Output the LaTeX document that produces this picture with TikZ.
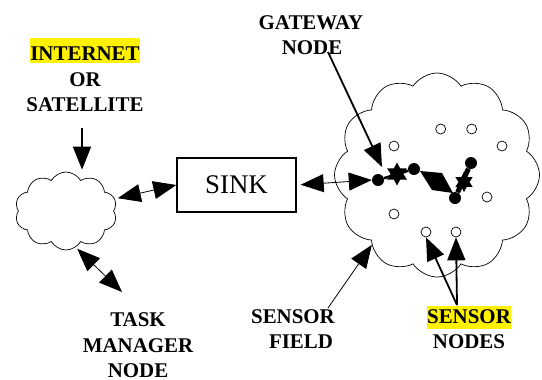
\documentclass[tikz,border=0pt]{standalone}
\usepackage{fontspec}
\setmainfont{Liberation Serif}
\usetikzlibrary{shapes.symbols,shapes.geometric,arrows.meta}
\newcommand\hlbox[3]{{\setlength\fboxsep{0pt}\colorbox{yellow}{\rule[-#2]{0pt}{#1}#3}}}
\begin{document}
\begin{tikzpicture}[x=1bp,y=-1bp,
  >={Triangle[length=23bp,width=18bp]},
  lbl/.style={font=\fontsize{21}{25}\selectfont\bfseries, inner sep=0pt, anchor=base},
  cloudsmall/.style={cloud, draw, cloud puffs=10, cloud puff arc=120, aspect=1.3, minimum width=102bp, minimum height=78bp, inner sep=0pt, line width=0.7bp},
  cloudbig/.style={cloud, draw, cloud puffs=12, cloud puff arc=115, aspect=1, minimum width=205bp, minimum height=204bp, inner sep=0pt, line width=0.7bp},
  sinkbox/.style={draw, line width=1.4bp, minimum width=119bp, minimum height=54bp, inner sep=0pt, font=\fontsize{27}{30}\selectfont},
  ocirc/.style={circle, draw, minimum size=10bp, inner sep=0pt, line width=0.7bp, fill=white},
  dot/.style={circle, fill, minimum size=12bp, inner sep=0pt},
  bstar/.style={star, star points=6, star point ratio=1.8, fill, inner sep=0pt},
  thinline/.style={line width=0.8bp},
  thickline/.style={line width=1.8bp}]
\useasboundingbox (0,0) rectangle (542,379);

% clouds and sink
\node[cloudsmall] (small) at (66,211) {};
\node[cloudbig] (big) at (437,175) {};
\node[sinkbox] (sink) at (236.5,185) {SINK\hspace{10bp}};

% sensor nodes (open circles)
\foreach \n/\x/\y in {c1/440.7/129, c2/471.7/129, c3/502/146, c4/394/146,
                      c5/487/197, c6/394/214, c7/426/232, c8/456/232}
  \node[ocirc] (\n) at (\x,\y) {};

% gateway chain
\node[dot] (d1) at (378,180) {};
\node[dot] (d2) at (414,169) {};
\node[dot] (d3) at (455,198) {};
\node[dot] (d4) at (471,163) {};
\draw[line width=2.5bp] (d1) -- (d2);
\draw[line width=5bp] (d3) -- (d4);
\node[bstar, minimum size=23bp] (s1) at (397,174) {};
\node[bstar, minimum size=20bp] (s2) at (464,182) {};
\fill (420,171) -- (442,173) -- (453,193) -- (432,190) -- cycle;

% labels
\node[lbl] (inet1) at (85,60) {\hlbox{25bp}{3bp}{INTERNET}};
\node[lbl] (inet2) at (85,86) {OR};
\node[lbl] (inet3) at (85,111) {SATELLITE};
\node[lbl] (gw1) at (311,29) {GATEWAY};
\node[lbl] (gw2) at (312,54) {NODE};
\node[lbl] (tm1) at (138,326) {TASK};
\node[lbl] (tm2) at (138,352) {MANAGER};
\node[lbl] (tm3) at (138,377) {NODE};
\node[lbl] (sf1) at (293,323) {SENSOR};
\node[lbl] (sf2) at (301,348) {FIELD};
\node[lbl] (sn1) at (469,323) {\hlbox{23bp}{6bp}{SENSOR}};
\node[lbl] (sn2) at (469,348) {NODES};

% free ends
\coordinate (ia) at (82,128);
\coordinate (gwa) at (328,52);
\coordinate (gwb) at (382,167);
\coordinate (tma) at (122,292);
\coordinate (sfa) at (328,308);
\coordinate (sna) at (457,305);

% connectors
\draw[->, line width=1.5bp, shorten >=2bp] (ia) -- (ia |- small.north);
\draw[<->, thinline, shorten <=3bp] (small.14) -- (sink.west);
\draw[<->, thinline, shorten <=4bp] (sink.east) -- (d1.west);
\draw[->, thickline] (gwa) -- (gwb);
\draw[<->, thinline, shorten <=2bp] (small.-75) -- (tma);
\draw[->, thinline] (sfa) -- (big.-133);
\draw[->, thickline] (sna) -- (c7.south);
\draw[->, thickline] (sna) -- (c8.south);
\end{tikzpicture}
\end{document}
